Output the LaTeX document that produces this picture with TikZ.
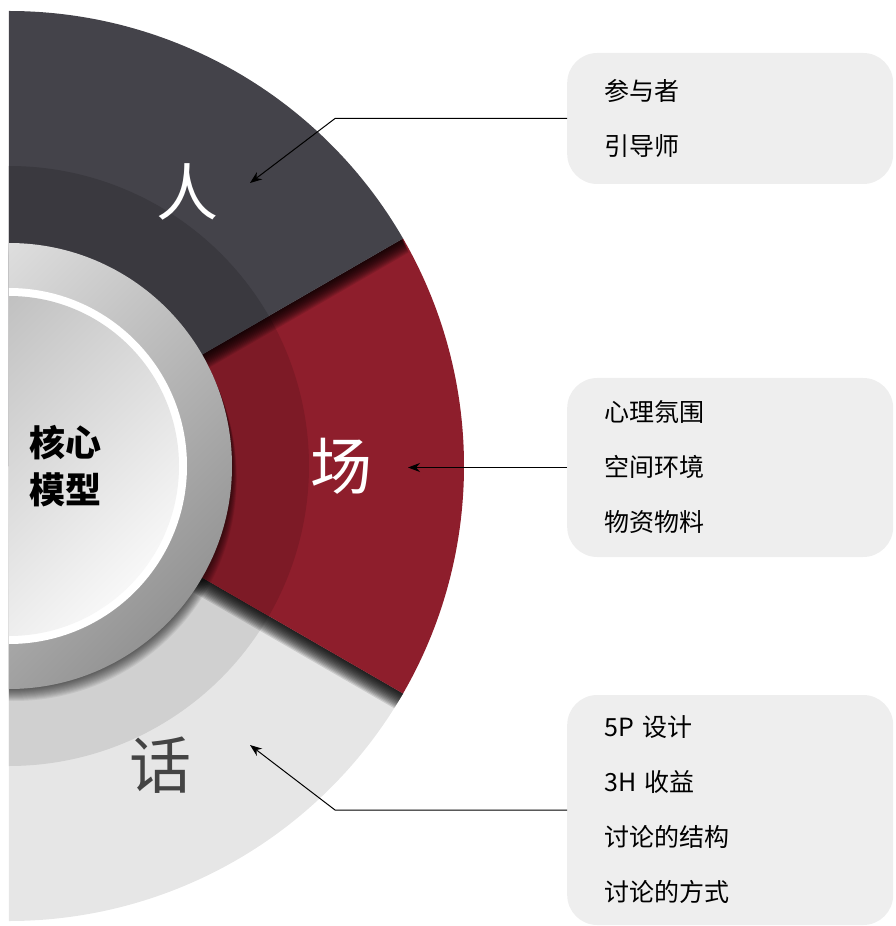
\documentclass[tikz,border=0pt]{standalone}
\usepackage{fontspec}
\setmainfont{Noto Sans CJK SC}
\usepackage{xcolor}
\usepackage{tikz}
\usetikzlibrary{arrows.meta,positioning}
\definecolor{renOuter}{HTML}{44434A}
\definecolor{renInner}{HTML}{3A393F}
\definecolor{changOuter}{HTML}{8E1E2C}
\definecolor{changInner}{HTML}{7D1A26}
\definecolor{huaOuter}{HTML}{E6E6E6}
\definecolor{huaInner}{HTML}{D0D0D0}
\definecolor{huaText}{HTML}{444444}
\definecolor{boxGray}{HTML}{EEEEEE}
\tikzset{
    >={Stealth[length=12pt,width=9pt]},
    sector/.style n args={3}{
        insert path={(0,0) -- (#1:#3pt) arc[start angle=#1, end angle=#2, radius=#3pt] -- cycle}
    },
    itembox/.style={
        rectangle,
        rounded corners=30pt,
        fill=boxGray,
        text width=252pt,
        inner xsep=37pt,
        inner ysep=0pt,
        align=left,
        anchor=west,
        font={\fontsize{25pt}{55pt}\selectfont}
    },
    pointer/.style={draw, line width=1pt, ->},
}

\begin{document}
\begin{tikzpicture}
[
    x=1pt, y=1pt,
    bigchar/.style={font={\fontsize{62pt}{62pt}\selectfont}},
    hub/.style={align=center, font={\fontsize{36pt}{47pt}\selectfont\bfseries}},
]
\useasboundingbox (-9,-460) rectangle (886,466);
\begin{scope}
\clip (0,-466) rectangle (500,466);
% 话
\fill[huaOuter, sector={-30}{-90}{455}];
\fill[huaInner, sector={-30}{-90}{300}];
\begin{scope}
\clip[sector={-30}{-90}{455}];
\foreach \d in {2,4,...,28}
    \fill[black, opacity=0.12, shift={(0.5*\d,-\d)}, sector={30}{-30}{452}];
\end{scope}
% 场
\fill[changOuter, sector={30}{-30}{455}];
\fill[changInner, sector={30}{-30}{300}];
\begin{scope}
\clip[sector={30}{-30}{455}];
\foreach \d in {1,...,14}
    \fill[black, opacity=0.1, shift={(0.4*\d,-\d)}, sector={90}{30}{455}];
\end{scope}
% 人
\fill[renOuter, sector={90}{30}{455}];
\fill[renInner, sector={90}{30}{300}];
% hub
\foreach \d in {1,...,12}
    \fill[black, opacity=0.06, shift={(0.4*\d,-\d)}] (0,0) circle[radius=223pt];
\shade[top color=white!92!black, bottom color=black!42, shading angle=45] (0,0) circle[radius=223pt];
\fill[white] (0,0) circle[radius=178pt];
\shade[top color=black!28, bottom color=white!97!black, shading angle=45] (0,0) circle[radius=170pt];
\end{scope}

\node[hub] (core) at (56,0) {核心\\模型};
\node[bigchar, text=white] (ren) at (178,274) {人};
\node[bigchar, text=white] (chang) at (332,0) {场};
\node[bigchar, text=huaText] (hua) at (151,-299) {话};

\node[itembox, minimum height=131pt] (renBox) at (558,347.5) {参与者\\引导师};
\node[itembox, minimum height=179pt] (changBox) at (558,-1.5) {心理氛围\\空间环境\\物资物料};
\node[itembox, minimum height=230pt] (huaBox) at (558,-344) {5P 设计\\3H 收益\\讨论的结构\\讨论的方式};

\coordinate (renTip) at (241,283);
\coordinate (changTip) at (399,-1.5);
\coordinate (huaTip) at (241,-279);
\draw[pointer] (renBox.west) -- ++(-232,0) -- (renTip);
\draw[pointer] (changBox.west) -- (changTip);
\draw[pointer] (huaBox.west) -- ++(-232,0) -- (huaTip);
\end{tikzpicture}
\end{document}
